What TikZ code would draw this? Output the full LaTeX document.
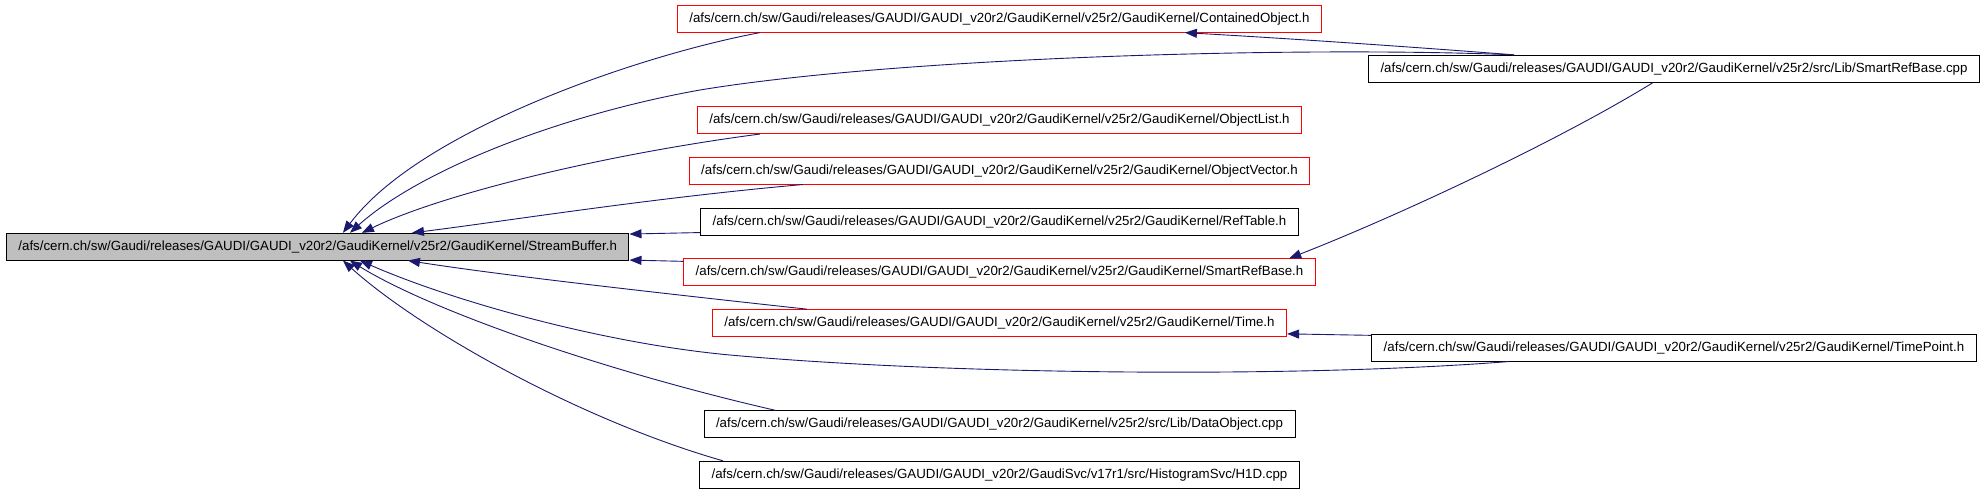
\documentclass[tikz,border=0pt]{standalone}
\usepackage{fontspec}
\setmainfont{Liberation Sans}
\usepackage{tikz}
\usetikzlibrary{arrows.meta,calc}
\definecolor{edgeblue}{HTML}{191970}
\definecolor{rootgray}{HTML}{BFBFBF}

\begin{document}
\begin{tikzpicture}[
    x=1pt, y=-1pt,
    >={Triangle[length=12pt,width=9pt]},
    file/.style={draw, line width=1pt, inner xsep=12pt, inner ysep=0pt,
                 minimum height=26.7pt, font=\fontsize{13.3}{16}\selectfont},
    cut/.style={file, draw=red},
    root/.style={file, fill=rootgray},
    dep/.style={->, color=edgeblue, line width=0.9pt},
  ]
    \useasboundingbox (0,0) rectangle (1984,493);
    \node[root] (main)   at (317.7,246.7) {/afs/cern.ch/sw/Gaudi/releases/GAUDI/GAUDI\_v20r2/GaudiKernel/v25r2/GaudiKernel/StreamBuffer.h};
    \node[cut]  (cobj)   at (999.5,18.8)  {/afs/cern.ch/sw/Gaudi/releases/GAUDI/GAUDI\_v20r2/GaudiKernel/v25r2/GaudiKernel/ContainedObject.h};
    \node[file] (srbcpp) at (1674,68.7)   {/afs/cern.ch/sw/Gaudi/releases/GAUDI/GAUDI\_v20r2/GaudiKernel/v25r2/src/Lib/SmartRefBase.cpp};
    \node[cut]  (olist)  at (999.5,120.2) {/afs/cern.ch/sw/Gaudi/releases/GAUDI/GAUDI\_v20r2/GaudiKernel/v25r2/GaudiKernel/ObjectList.h};
    \node[cut]  (ovec)   at (999.5,170.7) {/afs/cern.ch/sw/Gaudi/releases/GAUDI/GAUDI\_v20r2/GaudiKernel/v25r2/GaudiKernel/ObjectVector.h};
    \node[file] (reftab) at (999.5,221.7) {/afs/cern.ch/sw/Gaudi/releases/GAUDI/GAUDI\_v20r2/GaudiKernel/v25r2/GaudiKernel/RefTable.h};
    \node[cut]  (srbh)   at (999.5,272.2) {/afs/cern.ch/sw/Gaudi/releases/GAUDI/GAUDI\_v20r2/GaudiKernel/v25r2/GaudiKernel/SmartRefBase.h};
    \node[cut]  (timeh)  at (999.5,323)   {/afs/cern.ch/sw/Gaudi/releases/GAUDI/GAUDI\_v20r2/GaudiKernel/v25r2/GaudiKernel/Time.h};
    \node[file] (tpoint) at (1674,347.7)  {/afs/cern.ch/sw/Gaudi/releases/GAUDI/GAUDI\_v20r2/GaudiKernel/v25r2/GaudiKernel/TimePoint.h};
    \node[file] (dobj)   at (999.5,424.2) {/afs/cern.ch/sw/Gaudi/releases/GAUDI/GAUDI\_v20r2/GaudiKernel/v25r2/src/Lib/DataObject.cpp};
    \node[file] (honed)  at (999.5,474.7) {/afs/cern.ch/sw/Gaudi/releases/GAUDI/GAUDI\_v20r2/GaudiSvc/v17r1/src/HistogramSvc/H1D.cpp};
    % into the top of StreamBuffer.h
    \draw[dep] ($(cobj.south west)+(83,0)$) .. controls (640,55) and (420,130) .. ($(main.north west)+(337,0)$);
    \draw[dep] ($(srbcpp.north west)+(146,0)$) .. controls (1300,46) and (900,57) .. (700,90)
               .. controls (560,115) and (420,170) .. ($(main.north west)+(344,0)$);
    \draw[dep] ($(olist.south west)+(63,0)$) .. controls (600,155) and (440,195) .. ($(main.north west)+(356,0)$);
    \draw[dep] ($(ovec.south west)+(114,0)$) .. controls (650,198) and (500,222) .. ($(main.north west)+(406,0)$);
    % into the right side
    \draw[dep] ($(reftab.south west)+(0,-3)$) -- ($(main.north east)+(0,1.2)$);
    \draw[dep] ($(srbh.north west)+(0,3)$) -- ($(main.south east)+(0,-0.5)$);
    % into the bottom
    \draw[dep] ($(timeh.north west)+(95,0)$) .. controls (650,292) and (500,275) .. ($(main.south west)+(402,0)$);
    \draw[dep] ($(tpoint.south west)+(137.5,0)$) .. controls (1300,378) and (950,375) .. (730,355)
               .. controls (600,343) and (450,300) .. ($(main.south west)+(354,0)$);
    \draw[dep] ($(dobj.north west)+(72,0)$) .. controls (600,370) and (430,310) .. ($(main.south west)+(344,0)$);
    \draw[dep] ($(honed.north west)+(24,0)$) .. controls (580,420) and (420,330) .. ($(main.south west)+(337,0)$);
    % second level
    \draw[dep] ($(srbcpp.north west)+(146,0)$) .. controls (1400,46) and (1280,38) .. ($(cobj.south west)+(508,0)$);
    \draw[dep] ($(srbcpp.south west)+(285,0)$) .. controls (1560,140) and (1400,215) .. ($(srbh.north west)+(606,0)$);
    \draw[dep] ($(tpoint.north west)+(0,1.5)$) -- ($(timeh.south east)+(0,-3)$);
\end{tikzpicture}
\end{document}
